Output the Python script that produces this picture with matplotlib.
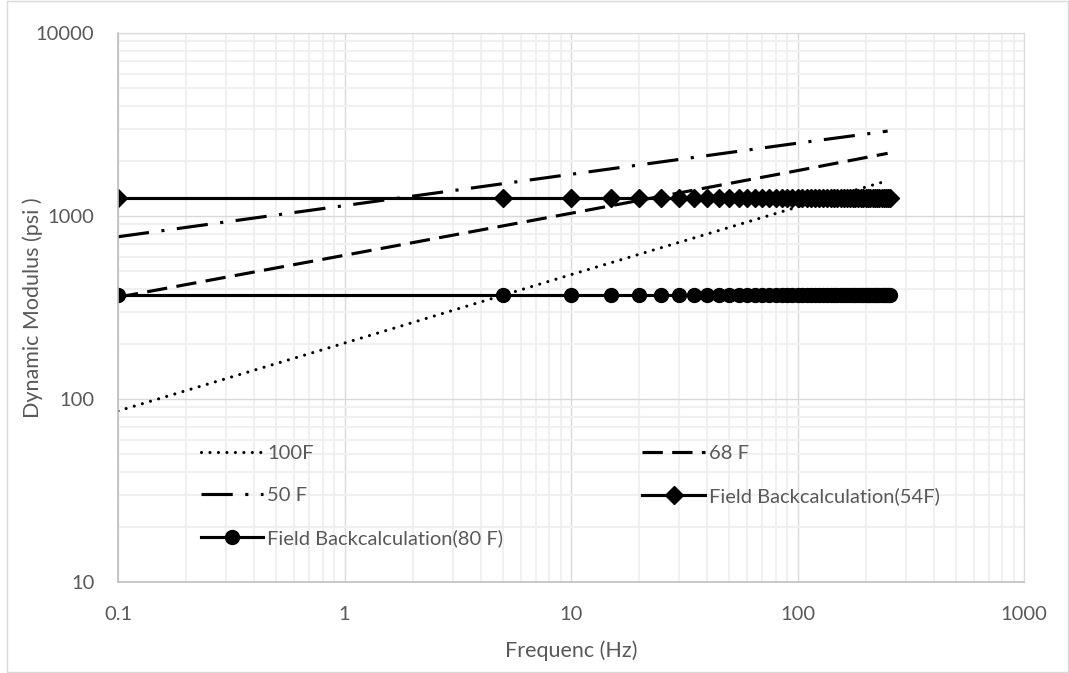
import matplotlib
matplotlib.use('Agg')
import matplotlib.pyplot as plt
from matplotlib.ticker import LogLocator, FixedLocator, FixedFormatter, NullFormatter
from matplotlib.patches import Rectangle

plt.rcParams['font.family'] = ['Lato', 'DejaVu Sans']

# master-curve frequencies (Hz) and modulus (psi)
freq_model = [0.1, 1, 10, 100, 250]
mod_100F = [86, 202, 478, 1120, 1560]
mod_68F = [360, 610, 1035, 1770, 2200]
mod_50F = [770, 1140, 1690, 2500, 2910]

# field backcalculation: 0.1 Hz then every 5 Hz up to 255 Hz
freq_field = [0.1] + list(range(5, 260, 5))
mod_field_54F = [1250] * len(freq_field)
mod_field_80F = [370] * len(freq_field)

x_ticks = [0.1, 1, 10, 100, 1000]
x_labels = ['0.1', '1', '10', '100', '1000']
y_ticks = [10, 100, 1000, 10000]
y_labels = ['10', '100', '1000', '10000']

fig = plt.figure(figsize=(10.69, 6.73), dpi=100)
ax = fig.add_axes([118/1069, 1-582/673, (1024-118)/1069, (582-33)/673])
fig.patches.append(Rectangle((7/1069, 0.002), 1-8/1069, 0.996, transform=fig.transFigure,
                             fill=False, edgecolor='#d9d9d9', linewidth=1))

lw = 2.25
h100, = ax.plot(freq_model, mod_100F, color='black', lw=lw, linestyle=(0, (0.01, 2.7)),
                dash_capstyle='round', label='100F')
h68, = ax.plot(freq_model, mod_68F, color='black', lw=lw, linestyle=(0, (6.5, 3)), label='68 F')
h50, = ax.plot(freq_model, mod_50F, color='black', lw=lw, linestyle=(0, (10, 4, 1, 4)),
               label='50 F')
h54, = ax.plot(freq_field, mod_field_54F, color='black', lw=lw, marker='D', ms=9,
               label='Field Backcalculation(54F)')
h80, = ax.plot(freq_field, mod_field_80F, color='black', lw=lw, marker='o', ms=10,
               label='Field Backcalculation(80 F)')

ax.set_xscale('log')
ax.set_yscale('log')
ax.set_xlim(0.1, 1000)
ax.set_ylim(10, 10000)

ax.xaxis.set_major_locator(FixedLocator(x_ticks))
ax.xaxis.set_major_formatter(FixedFormatter(x_labels))
ax.yaxis.set_major_locator(FixedLocator(y_ticks))
ax.yaxis.set_major_formatter(FixedFormatter(y_labels))
ax.xaxis.set_minor_locator(LogLocator(base=10, subs=range(2, 10)))
ax.yaxis.set_minor_locator(LogLocator(base=10, subs=range(2, 10)))
ax.xaxis.set_minor_formatter(NullFormatter())
ax.yaxis.set_minor_formatter(NullFormatter())

ax.grid(which='major', color='#d9d9d9', linewidth=1)
ax.grid(which='minor', color='#f0f0f0', linewidth=1.5)
ax.set_axisbelow(True)
ax.tick_params(which='both', length=0, colors='#595959', labelsize=14.5)
ax.tick_params(axis='x', pad=17)
ax.tick_params(axis='y', pad=17)
for side in ['top', 'right']:
    ax.spines[side].set_color('#d9d9d9')
for side in ['left', 'bottom']:
    ax.spines[side].set_color('#bfbfbf')
    ax.spines[side].set_linewidth(1.2)

ax.set_xlabel('Frequenc (Hz)', fontsize=15.5, color='#595959', labelpad=13)
ax.set_ylabel('Dynamic Modulus (psi )', fontsize=15.5, color='#595959')
ax.yaxis.set_label_coords(-0.083, 0.5)

leg = ax.legend([h100, h50, h80, h68, h54],
                ['100F', '50 F', 'Field Backcalculation(80 F)', '68 F', 'Field Backcalculation(54F)'],
                ncol=2, frameon=False, fontsize=14.5, labelcolor='#595959',
                loc='upper left', bbox_to_anchor=(0.0715, 0.283),
                handlelength=3.1, handletextpad=0.2, columnspacing=6.9, labelspacing=1.25)

fig.savefig('out.png', dpi=100)
